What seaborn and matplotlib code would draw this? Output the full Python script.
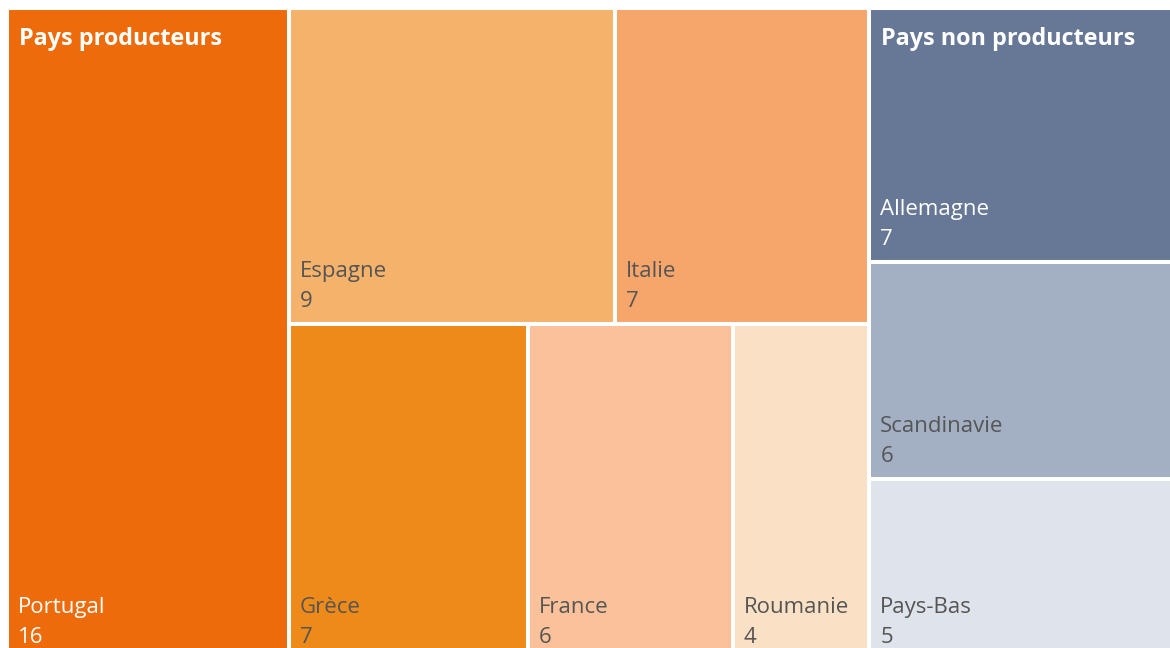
"""
Treemap : pays producteurs / non producteurs.
"""
import matplotlib.pyplot as plt
import seaborn as sns
from matplotlib.patches import Rectangle

group_names = ["Pays producteurs", "Pays non producteurs"]

prod_names = ["Portugal", "Espagne", "Italie", "Grèce", "France", "Roumanie"]
prod_values = [16, 9, 7, 7, 6, 4]

nonprod_names = ["Allemagne", "Scandinavie", "Pays-Bas"]
nonprod_values = [7, 6, 5]

prod_colors = ["#EE6B0C", "#F4B26B", "#F7A66B", "#EE8A19", "#FAC19B", "#FAE0C4"]
nonprod_colors = ["#667896", "#A3AFC3", "#DFE3EB"]
prod_text = ["white", "#555555", "#555555", "#555555", "#555555", "#555555"]
nonprod_text = ["white", "#555555", "#555555"]

# canvas in pixels (the original chart is a bit larger than the crop)
W, H = 1179, 652
RATIO = 0.75


def squarify(values, x0, y0, x1, y1, ratio=RATIO):
    """d3-style squarified tiling, returns (x, y, w, h) per value."""
    rects = []
    value = float(sum(values))
    i0, n = 0, len(values)
    while i0 < n:
        dx, dy = x1 - x0, y1 - y0
        i1 = i0 + 1
        sum_v = min_v = max_v = values[i0]
        alpha = max(dy / dx, dx / dy) / (value * ratio)
        beta = sum_v * sum_v * alpha
        min_ratio = max(max_v / beta, beta / min_v)
        while i1 < n:
            v = values[i1]
            s = sum_v + v
            mn, mx = min(min_v, v), max(max_v, v)
            beta = s * s * alpha
            new_ratio = max(mx / beta, beta / mn)
            if new_ratio > min_ratio:
                break
            sum_v, min_v, max_v, min_ratio = s, mn, mx, new_ratio
            i1 += 1
        row = values[i0:i1]
        if dx < dy:
            y_end = y0 + dy * sum_v / value
            x = x0
            for v in row:
                w = dx * v / sum_v
                rects.append((x, y0, w, y_end - y0))
                x += w
            y0 = y_end
        else:
            x_end = x0 + dx * sum_v / value
            y = y0
            for v in row:
                h = dy * v / sum_v
                rects.append((x0, y, x_end - x0, h))
                y += h
            x0 = x_end
        value -= sum_v
        i0 = i1
    return rects


sns.set_theme(style="white")
plt.rcParams["font.family"] = ["Open Sans", "DejaVu Sans"]

fig = plt.figure(figsize=(11.7, 6.48), dpi=100)
ax = fig.add_axes([7 / 1170, (648 - 8 - H) / 648, W / 1170, H / 648])
ax.set_xlim(0, W)
ax.set_ylim(H, 0)
ax.axis("off")

groups = [
    (group_names[0], prod_names, prod_values, prod_colors, prod_text),
    (group_names[1], nonprod_names, nonprod_values, nonprod_colors, nonprod_text),
]
group_rects = squarify([sum(g[2]) for g in groups], 0, 0, W, H)

for (gname, names, values, colors, tcols), (gx, gy, gw, gh) in zip(groups, group_rects):
    tiles = squarify(values, gx, gy, gx + gw, gy + gh)
    for name, val, col, tc, (x, y, w, h) in zip(names, values, colors, tcols, tiles):
        ax.add_patch(Rectangle((x, y), w, h, facecolor=col, edgecolor="white",
                               linewidth=2.9))
        ax.text(x + 11, y + h - 47, name, color=tc, fontsize=16, va="baseline")
        ax.text(x + 11, y + h - 17, str(val), color=tc, fontsize=16, va="baseline")
    ax.text(gx + 12, gy + 37, gname, color="white", fontsize=16.8,
            fontweight="bold", va="baseline")

fig.savefig("out.png", dpi=100)
